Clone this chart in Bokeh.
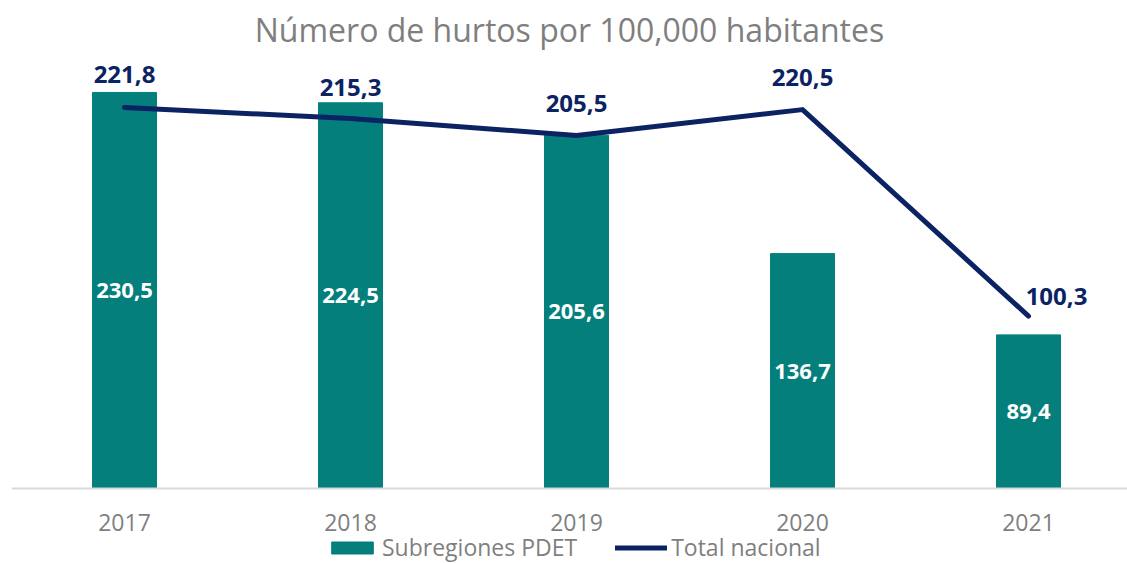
from bokeh.plotting import figure
from bokeh.models import (ColumnDataSource, Range1d, FixedTicker, LabelSet,
                          Legend, LegendItem)
from bokeh.core.properties import value
from bokeh.embed import file_html
from bokeh.resources import INLINE

# ---- data ----
years = [2017, 2018, 2019, 2020, 2021]
year_labels = ["2017", "2018", "2019", "2020", "2021"]
pdet = [230.5, 224.5, 205.6, 136.7, 89.4]
nacional = [221.8, 215.3, 205.5, 220.5, 100.3]
title_text = "Número de hurtos por 100,000 habitantes"
series_names = ["Subregiones PDET", "Total nacional"]

# ---- styles ----
TEAL = "#047F7C"
NAVY = "#0B2263"
GRAY = "#7F7F7F"
FONT = "Open Sans"

fmt = lambda v: f"{v:.1f}".replace(".", ",")

src = ColumnDataSource(dict(
    x=years,
    pdet=pdet,
    pdet_mid=[v / 2 for v in pdet],
    pdet_lbl=[fmt(v) for v in pdet],
    nac=nacional,
    nac_lbl=[fmt(v) for v in nacional],
    lx=[0, 0, 0, 0, 28],
    ly=[33, 31, 32, 32, 20],
))

# frame runs to the bottom of the window; value 0 sits 75px above it
p = figure(frame_width=1116, frame_height=508, output_backend="svg",
           toolbar_location=None,
           x_range=Range1d(2016.5, 2021.438), y_range=Range1d(-43.66, 252),
           min_border_left=11, min_border_right=0, min_border_top=0,
           min_border_bottom=0)

p.title.text = title_text
p.title.align = "center"
p.title.text_font = FONT
p.title.text_font_size = "32px"
p.title.text_font_style = "normal"
p.title.text_color = GRAY
p.title.offset = -11

bars = p.vbar(x="x", top="pdet", width=0.283, source=src, color=TEAL)
line = p.line(x="x", y="nac", source=src, line_color=NAVY, line_width=5,
              line_cap="round", line_join="round")

p.add_layout(LabelSet(x="x", y="pdet_mid", text="pdet_lbl", source=src,
                      text_align="center", text_baseline="middle",
                      text_color="white", text_font=value(FONT),
                      text_font_style="bold", text_font_size="22px"))
p.add_layout(LabelSet(x="x", y="nac", text="nac_lbl", source=src,
                      x_offset="lx", y_offset="ly",
                      text_align="center", text_baseline="middle",
                      text_color=NAVY, text_font=value(FONT),
                      text_font_style="bold", text_font_size="24px"))

p.xgrid.visible = False
p.ygrid.visible = False
p.yaxis.visible = False
p.outline_line_color = None

xa = p.xaxis[0]
xa.fixed_location = 0
xa.ticker = FixedTicker(ticks=years)
xa.major_label_overrides = {y: l for y, l in zip(years, year_labels)}
xa.major_tick_line_color = None
xa.minor_tick_line_color = None
xa.axis_line_color = "#D9D9D9"
xa.axis_line_width = 2
xa.major_label_text_font = FONT
xa.major_label_text_font_size = "23px"
xa.major_label_text_color = GRAY
xa.major_label_standoff = 20

legend = Legend(items=[LegendItem(label=series_names[0], renderers=[bars]),
                       LegendItem(label=series_names[1], renderers=[line])],
                orientation="horizontal", location=(315, 0),
                glyph_width=52, glyph_height=15, spacing=38,
                label_text_font=FONT, label_text_font_size="23px",
                label_text_color=GRAY, label_standoff=4,
                border_line_color=None, background_fill_alpha=0,
                padding=0, margin=0)
p.add_layout(legend, "center")

open("out.html", "w").write(file_html(p, INLINE))
